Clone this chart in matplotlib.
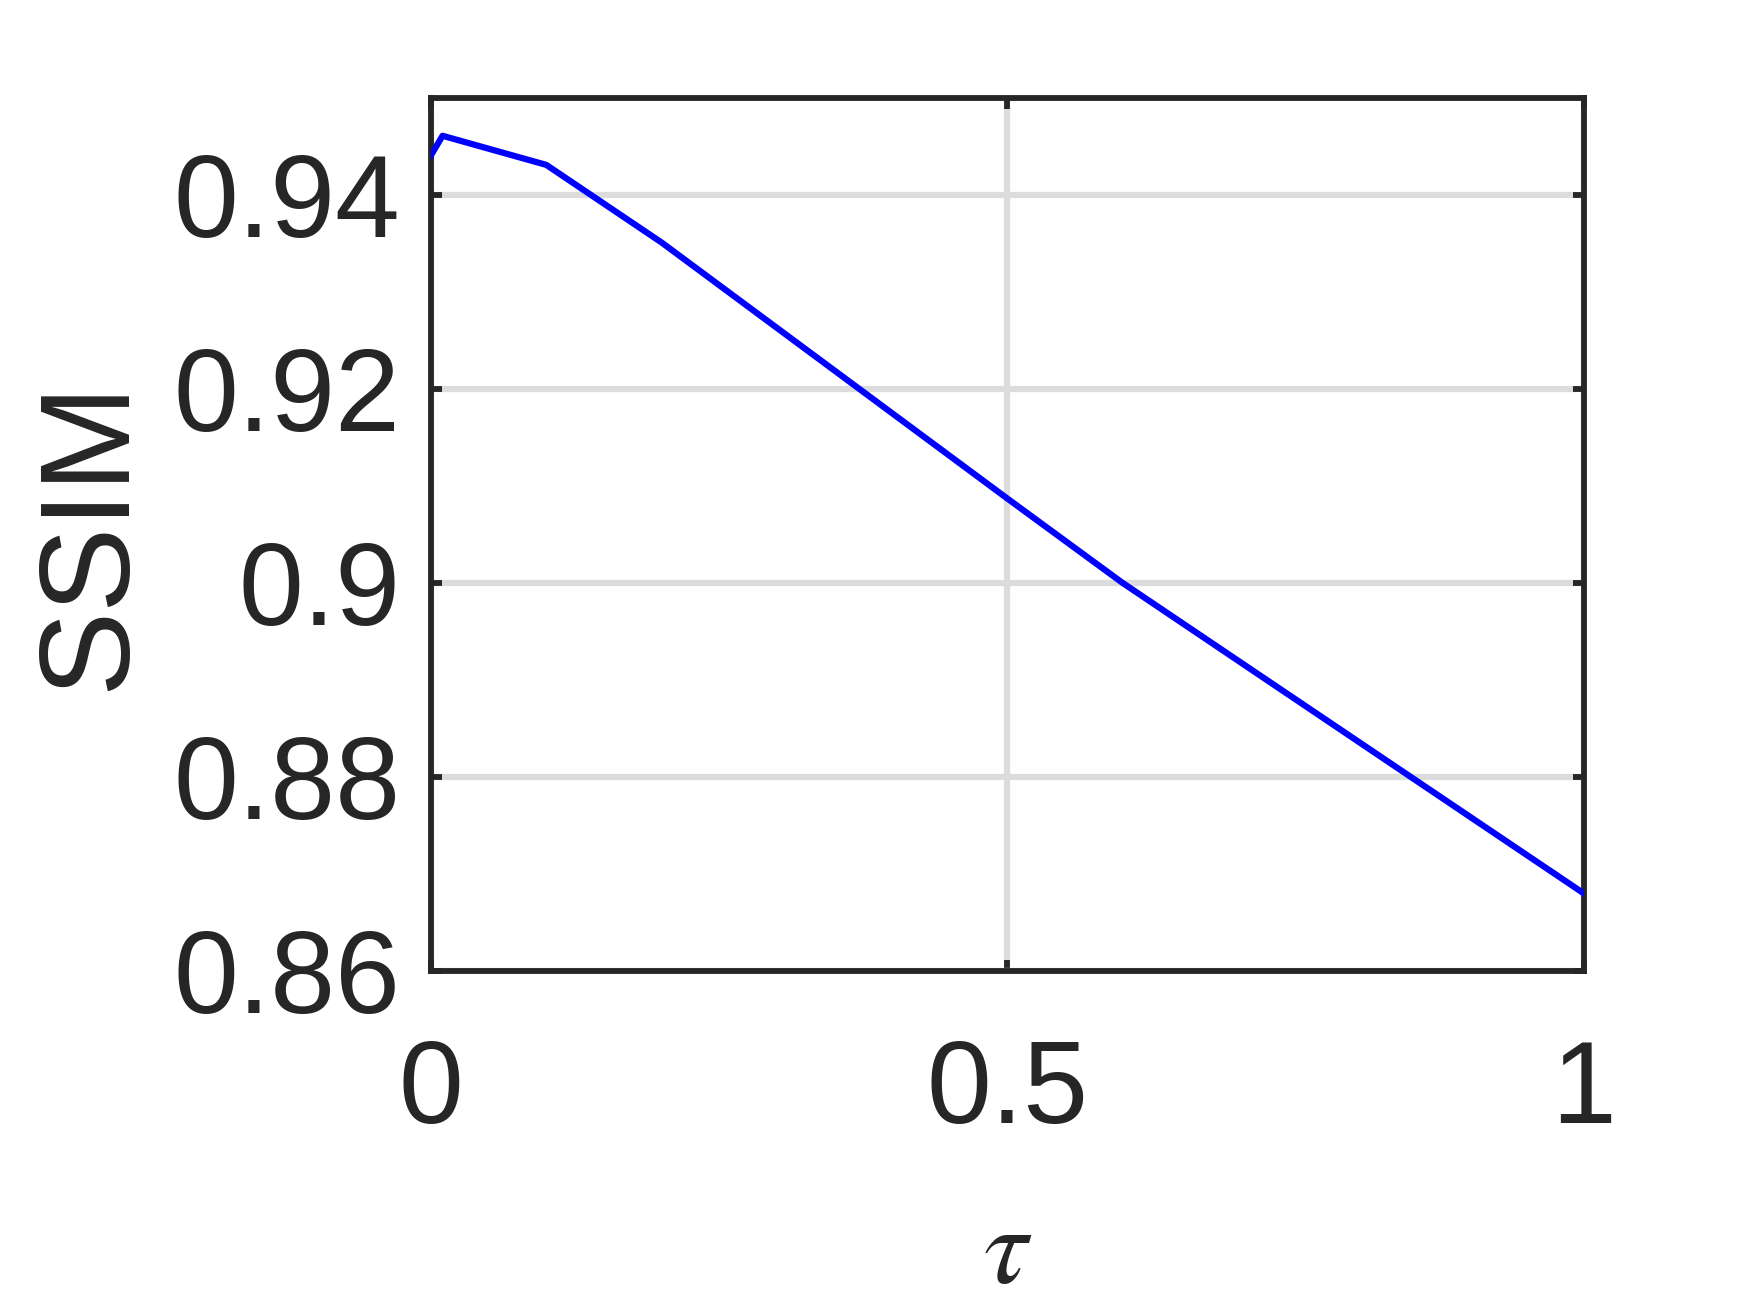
import matplotlib.pyplot as plt

# SSIM versus tau
tau = [0.0, 0.01, 0.1, 0.2, 0.3, 0.4, 0.5, 0.6, 0.7, 0.8, 0.9, 1.0]
ssim = [0.9441, 0.9461, 0.9431, 0.9351, 0.9263, 0.9175, 0.9087, 0.9000,
        0.8920, 0.8840, 0.8760, 0.8680]

xticks = [0, 0.5, 1]
xticklabels = ['0', '0.5', '1']
yticks = [0.86, 0.88, 0.90, 0.92, 0.94]
yticklabels = ['0.86', '0.88', '0.9', '0.92', '0.94']

plt.rcParams['font.family'] = ['Liberation Sans', 'DejaVu Sans']
plt.rcParams['mathtext.fontset'] = 'stix'
dark = '#262626'

fig = plt.figure(figsize=(17.5, 13.13), dpi=100)
ax = fig.add_axes([0.2463, 0.2605, 0.905 - 0.2463, 0.9254 - 0.2605])

ax.plot(tau, ssim, color='#0000ff', linewidth=4.5, zorder=3)

ax.set_xlim(0, 1)
ax.set_ylim(0.86, 0.95)
ax.set_xticks(xticks)
ax.set_xticklabels(xticklabels)
ax.set_yticks(yticks)
ax.set_yticklabels(yticklabels)

ax.grid(True, color='#dcdcdc', linewidth=4.5, zorder=0)
ax.set_axisbelow(True)

for s in ax.spines.values():
    s.set_color(dark)
    s.set_linewidth(4.2)

ax.tick_params(direction='in', length=8, width=4.2, color=dark,
               labelcolor=dark, labelsize=84, top=True, right=True)
ax.tick_params(axis='x', pad=48)
ax.tick_params(axis='y', pad=22)

ax.set_xlabel(r'$\tau$', fontsize=80, color=dark, labelpad=40)
ax.set_ylabel('SSIM', fontsize=92, color=dark, labelpad=16)

fig.savefig('out.png', dpi=100, facecolor='white')
